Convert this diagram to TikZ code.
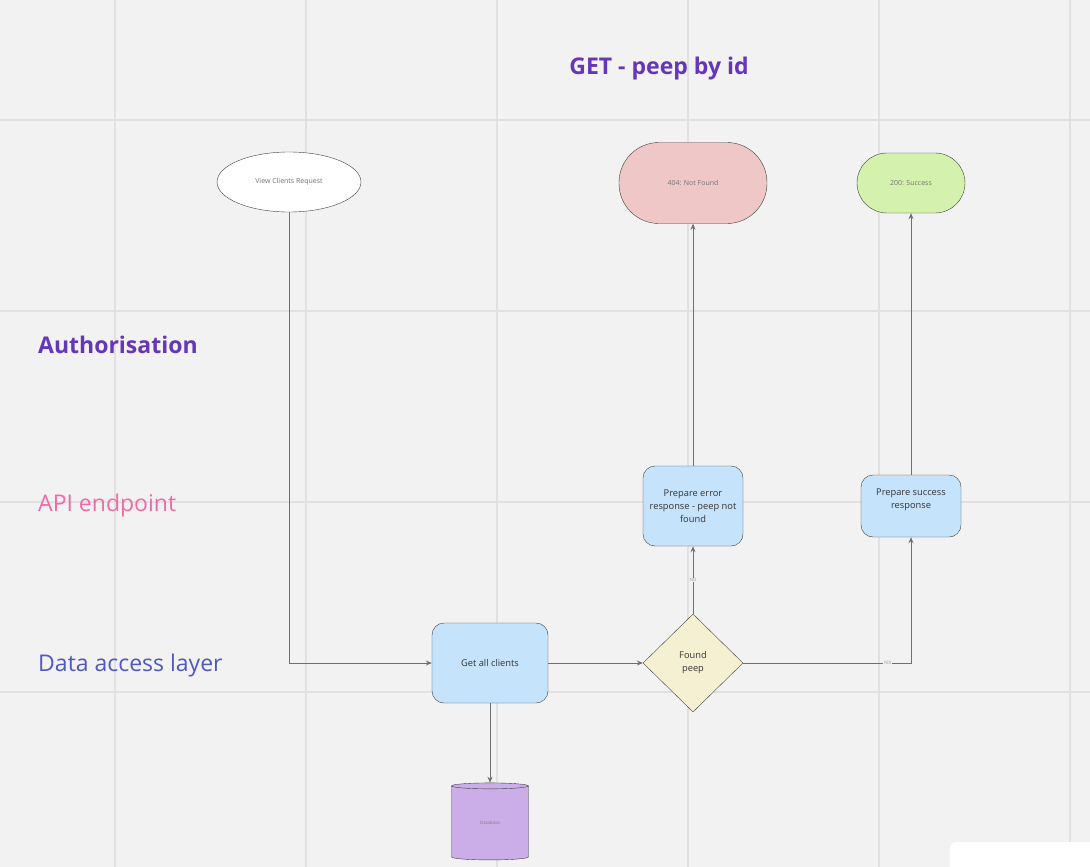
\documentclass[tikz,border=0pt]{standalone}
\usepackage{fontspec}
\setmainfont{Open Sans}
\usetikzlibrary{shapes.geometric,arrows.meta}
\definecolor{bg}{HTML}{F2F2F2}
\definecolor{gridc}{HTML}{E1E1E1}
\definecolor{linec}{HTML}{6F6F6F}
\definecolor{titlec}{HTML}{6536B8}
\definecolor{apic}{HTML}{EE6BA8}
\definecolor{datac}{HTML}{5058BE}
\definecolor{boxc}{HTML}{C5E3FB}
\definecolor{errc}{HTML}{F0C7C7}
\definecolor{okc}{HTML}{D4F2AD}
\definecolor{decc}{HTML}{F6F0D2}
\definecolor{dbc}{HTML}{CBADE8}
\begin{document}
\begin{tikzpicture}[x=1pt,y=-1pt,
    every node/.style={font=\fontsize{9.3}{13}\selectfont, text=black!80},
    proc/.style={draw=black!75, fill=boxc, rounded corners=12pt, align=center, inner sep=2pt},
    term/.style={draw=black!75, align=center, inner sep=0pt, font=\fontsize{7}{8}\selectfont, text=black!55},
    flow/.style={draw=linec, line width=0.9pt, -{Stealth[length=6pt,width=5pt]}},
    tiny/.style={font=\fontsize{4.5}{5}\selectfont, text=black!40, fill=bg, inner sep=0.6pt},
    lane/.style={font=\fontsize{23}{27}\selectfont, anchor=west, inner sep=0pt}]
   \useasboundingbox (0,0) rectangle (1090,867);
   \fill[bg] (0,0) rectangle (1090,867);
   % grid
   \foreach \gx in {115,306,497,688,879,1070}
      \draw[gridc, line width=1.3pt] (\gx,0) -- (\gx,867);
   \foreach \gy in {120,311,502,692}
      \draw[gridc, line width=1.3pt] (0,\gy) -- (1090,\gy);
   % headings
   \node[font=\fontsize{23}{27}\selectfont\bfseries, text=titlec] (title) at (659,69) {GET - peep by id};
   \node[lane, font=\fontsize{23}{27}\selectfont\bfseries, text=titlec] (auth) at (38,345) {Authorisation};
   \node[lane, text=apic] (api) at (38,506) {API endpoint};
   \node[lane, text=datac] (data) at (38,666) {Data access layer};
   % nodes
   \node[term, ellipse, fill=white, minimum width=144pt, minimum height=60pt] (request) at (289,182) {View Clients Request};
   \node[term, rectangle, rounded corners=40pt, fill=errc, minimum width=148pt, minimum height=81pt] (notfound) at (693,183) {404: Not Found};
   \node[term, rectangle, rounded corners=30pt, fill=okc, minimum width=108pt, minimum height=60pt] (success) at (911,183) {200: Success};
   \node[proc, minimum width=100pt, minimum height=80pt] (errresp) at (693,506) {Prepare error\\response - peep not\\found};
   \node[proc, minimum width=100pt, minimum height=62pt] (okresp) at (911,506) {Prepare success\\response\\[2pt]};
   \node[proc, minimum width=116pt, minimum height=80pt] (getall) at (490,663) {Get all clients};
   \node[draw=black!75, fill=decc, diamond, minimum width=100pt, minimum height=98pt, inner sep=0pt, align=center] (found) at (693,663) {Found\\peep};
   \node[draw=black!75, fill=dbc, cylinder, shape border rotate=90, shape aspect=0.3, minimum width=77pt, minimum height=77pt, inner sep=0pt, font=\fontsize{4.5}{5}\selectfont, text=black!50] (db) at (490,823) {Database};
   % connectors
   \draw[flow] (request.south) |- (getall.west);
   \draw[flow] (getall.east) -- (found.west);
   \draw[flow] (getall.south) -- (db.top);
   \draw[flow] (found.north) -- node[tiny] {NO} (errresp.south);
   \draw[flow] (found.east) -| node[tiny, pos=0.43] {YES} (okresp.south);
   \draw[flow] (errresp.north) -- (notfound.south);
   \draw[flow] (okresp.north) -- (success.south);
   % corner panel
   \fill[white, rounded corners=6pt] (950,842) rectangle (1100,880);
\end{tikzpicture}
\end{document}
